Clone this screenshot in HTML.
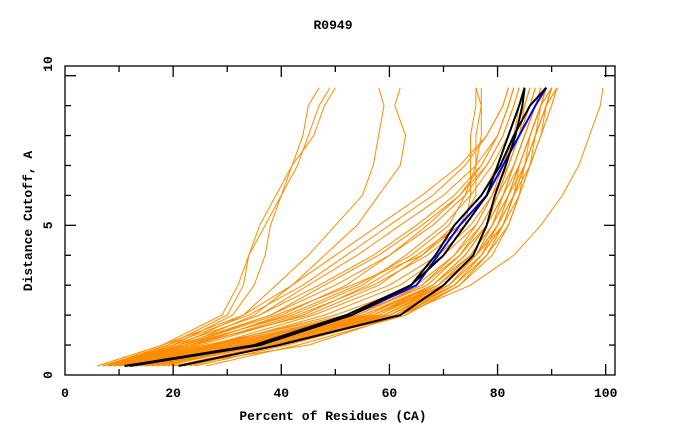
<!DOCTYPE html>
<html><head><meta charset="utf-8"><style>
html,body{margin:0;padding:0;background:#fff;}
svg{display:block;}
text{font-family:"Liberation Mono",monospace;font-weight:bold;font-size:13px;fill:#000;}
</style></head><body>
<svg id="chart" width="680" height="440" viewBox="0 0 680 440" xmlns="http://www.w3.org/2000/svg">
<text x="333" y="29" text-anchor="middle">R0949</text>
<text x="333" y="420" text-anchor="middle">Percent of Residues (CA)</text>
<text transform="translate(32,221) rotate(-90)" text-anchor="middle">Distance Cutoff, A</text>
<g id="series"></g>
<g id="axes"></g>
</svg>
<script>
const levels = [0.3,1,2,3,4,5,6,7,8,9,9.6];
const xTicks = [0,20,40,60,80,100];
const yTicks = [0,5,10];
const orangeCurves = [
[7,26,52,66,72,76,79,81,83,85,86],
[8,27,54,67,73,77,80,82,84,86,87],
[9,29,55,68,74,78,80,83,85,87,88],
[10,30,56,68,74,78,81,83,85,87,88],
[11,31,57,69,75,79,81,84,86,88,89],
[12,32,57,70,76,79,82,84,86,88,90],
[13,33,58,70,76,80,82,85,87,89,90],
[14,34,59,71,77,80,83,85,87,89,91],
[15,35,60,71,77,81,83,86,88,90,91],
[16,36,60,72,78,81,84,86,88,90,91],
[18,37,61,72,78,82,84,86,88,89,90],
[20,38,62,73,78,82,84,86,87,89,90],
[22,40,63,73,79,82,84,85,87,88,89],
[12,30,55,69,75,79,82,84,86,88,89],
[14,33,58,69,75,79,81,83,85,87,88],
[10,28,53,67,73,78,81,83,85,87,88],
[17,36,59,70,76,80,83,85,87,89,90],
[9,27,50,65,72,77,80,82,84,86,87],
[24,41,62,72,77,80,82,84,86,88,89],
[26,43,63,73,78,81,83,85,87,89,90],
[19,34,56,68,74,78,81,83,85,87,89],
[21,38,60,71,76,80,82,84,86,88,90],
[11,29,54,66,73,77,80,83,85,87,88],
[15,32,57,69,76,80,83,85,87,89,91],
[13,35,59,70,76,81,83,84,86,88,89],
[16,33,57,68,75,79,82,84,86,88,89],
[23,39,61,71,77,81,83,85,86,88,89],
[7,22,42,55,63,70,75,79,82,84,85],
[8,23,45,58,66,72,77,80,82,84,85],
[9,24,40,52,60,67,73,78,81,83,84],
[8,21,38,50,60,68,74,78,81,83,84],
[10,25,44,56,65,73,78,81,83,84,85],
[7,20,36,47,57,65,72,77,80,82,83],
[9,23,41,54,64,71,74,76,77,77,77],
[8,22,39,53,66,73,76,76,76,77,76],
[10,24,43,57,67,74,75,75,75,76,76],
[7,19,34,44,52,60,68,74,78,81,82],
[8,20,36,45,54,62,70,76,80,82,83],
[6,18,33,42,50,58,66,73,78,81,82],
[9,22,38,48,58,66,73,77,80,82,83],
[11,27,46,60,69,75,79,81,83,85,86],
[12,28,48,62,70,76,79,82,84,85,86],
[7,19,30,33,34,36,39,42,44,45,47],
[8,20,31,35,37,38,40,43,45,47,49],
[6,18,29,32,34,37,40,42,46,48,50],
[8,21,33,39,45,50,55,57,58,59,58],
[9,22,35,42,48,54,58,62,63,61,62],
[20,45,62,75,83,88,92,95,97,99,99.5]
];
const blueCurve = [11,36,53,65,69,73,78,81,84,87,89];
const blackCurves = [
[11,35,52,64,68.5,72,77,80.5,83,86,89],
[12,36,53,64,70,74,78,80,82,84,85],
[21,39.5,62,70,75.5,78,79.5,81.5,83.3,84.6,85]
];
const X0=65, X1=605.7, Y0=375, Y1=75.7;
function sx(v){return X0+(X1-X0)*v/100;}
function sy(v){return Y0+(Y1-Y0)*v/10;}
const NS="http://www.w3.org/2000/svg";
const g=document.getElementById('series');
function line(vals,color,w,name){
  const p=document.createElementNS(NS,'polyline');
  p.setAttribute('points',vals.map((v,i)=>sx(v).toFixed(1)+','+sy(levels[i]).toFixed(1)).join(' '));
  p.setAttribute('fill','none');
  p.setAttribute('stroke',color);
  p.setAttribute('stroke-width',w);
  
  
  g.appendChild(p);
}
orangeCurves.forEach(function(c){line(c,'#ff8c00',1,'model-curve');});
line(blueCurve,'#0000ff',2,'reference-curve');
blackCurves.forEach(function(c){line(c,'#000000',2,'highlight-curve');});
const a=document.getElementById('axes');
function seg(x1,y1,x2,y2,name){
  const l=document.createElementNS(NS,'line');
  l.setAttribute('x1',x1);
  l.setAttribute('y1',y1);
  l.setAttribute('x2',x2);
  l.setAttribute('y2',y2);
  l.setAttribute('stroke','#000');
  l.setAttribute('stroke-width',1.3);
  
  
  a.appendChild(l);
}
function txt(x,y,s,anchor,rot,name){
  const t=document.createElementNS(NS,'text');
  t.setAttribute('x',x);
  t.setAttribute('y',y);
  t.setAttribute('text-anchor',anchor);
  if(rot){t.setAttribute('transform','rotate(-90 '+x+' '+y+')');}
  t.textContent=s;
  
  
  a.appendChild(t);
}
const rect=document.createElementNS(NS,'rect');
rect.setAttribute('x',65);
rect.setAttribute('y',66);
rect.setAttribute('width',550);
rect.setAttribute('height',309);
rect.setAttribute('fill','none');
rect.setAttribute('stroke','#000');
rect.setAttribute('stroke-width',1.3);


a.appendChild(rect);
for(let v=10;v<=100;v+=10){
  const len=(v%20===0)?11:6;
  seg(sx(v),Y0,sx(v),Y0-len,'x-tick');
  seg(sx(v),66,sx(v),66+len,'x-tick-top');
}
for(let v=1;v<=10;v++){
  const len=(v%5===0)?11:6;
  seg(X0,sy(v),X0+len,sy(v),'y-tick');
  seg(615,sy(v),615-len,sy(v),'y-tick-right');
}
xTicks.forEach(function(v){txt(sx(v),397,String(v),'middle',false,'x-tick-label');});
txt(52,sy(0),'0','middle',true,'y-tick-label');
txt(52,sy(5),'5','middle',true,'y-tick-label');
txt(52,64,'10','middle',true,'y-tick-label');
</script>
</body></html>
